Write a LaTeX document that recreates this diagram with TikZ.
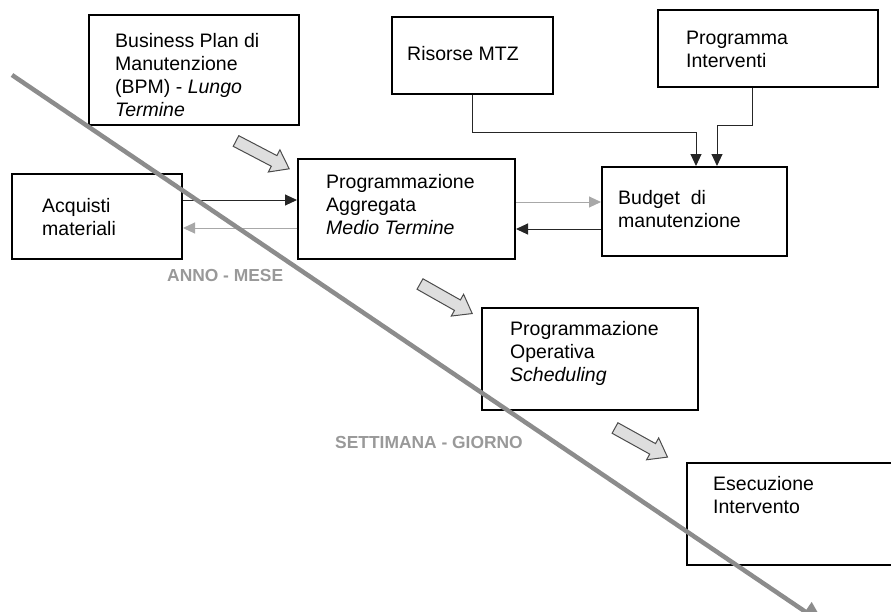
\documentclass[tikz,border=0pt]{standalone}
\usepackage{fontspec}
\setmainfont{Liberation Sans}
\usetikzlibrary{arrows.meta,fit}
\definecolor{lgray}{HTML}{A8A8A8}
\definecolor{dgray}{HTML}{8C8C8C}
\definecolor{bafill}{HTML}{DEDEDE}
\definecolor{labgray}{HTML}{999999}
\begin{document}
\begin{tikzpicture}[x=1pt,y=-1pt,
  box/.style={draw=black, line width=2pt, fill=white, inner sep=0pt, rectangle},
  txt/.style={anchor=base west, inner sep=0pt, font=\fontsize{19.5}{23}\selectfont},
  blk/.style={draw=black!85, line width=1pt, -{Triangle[length=12pt,width=11pt]}},
  gry/.style={draw=lgray, line width=1pt, -{Triangle[length=12pt,width=11pt]}},
  barrow/.style={draw=black!70, fill=bafill, line width=1pt, line join=miter},
  lab/.style={anchor=base west, inner sep=0pt, text=labgray, font=\fontsize{17.4}{20}\selectfont\bfseries},
  diag/.style={draw=dgray, line width=4.5pt, -{Triangle[length=24pt,width=22pt]}}
]
\useasboundingbox (0,0) rectangle (891,611);

% boxes
\node[box, fit={(89,15) (299,125)}] (bpm) {};
\node[box, fit={(392,17) (553,94)}] (ris) {};
\node[box, fit={(658,10) (878,87)}] (prg) {};
\node[box, fit={(12,174) (182,259)}] (acq) {};
\node[box, fit={(298,159) (515,259)}] (agg) {};
\node[box, fit={(602,167) (787,256)}] (bud) {};
\node[box, fit={(482,308) (698,410)}] (ope) {};
\node[box, fit={(687,463) (895,565)}] (ese) {};

% texts
\node[txt] (tbpm) at (115,47) {\parbox[t]{200pt}{Business Plan di\\Manutenzione\\(BPM) - \textit{Lungo}\\\textit{Termine}}};
\node[txt] (tris) at (407,60) {Risorse MTZ};
\node[txt] (tprg) at (686,44) {\parbox[t]{200pt}{Programma\\Interventi}};
\node[txt] (tacq) at (42,212) {\parbox[t]{200pt}{Acquisti\\materiali}};
\node[txt] (tagg) at (326,188) {\parbox[t]{200pt}{Programmazione\\Aggregata\\\textit{Medio Termine}}};
\node[txt] (tbud) at (618,204) {\parbox[t]{200pt}{Budget\ \ di\\manutenzione}};
\node[txt] (tope) at (510,335) {\parbox[t]{200pt}{Programmazione\\Operativa\\\textit{Scheduling}}};
\node[txt] (tese) at (713,490) {\parbox[t]{200pt}{Esecuzione\\Intervento}};

% labels
\node[lab] (l1) at (167,281) {ANNO - MESE};
\node[lab] (l2) at (335,448) {SETTIMANA - GIORNO};

% connectors
\draw[blk] (acq.east |- 0,200) -- (agg.west |- 0,200);
\draw[gry] (agg.west |- 0,228) -- (acq.east |- 0,228);
\draw[gry] (agg.east |- 0,202) -- (bud.west |- 0,202);
\draw[blk] (bud.west |- 0,229) -- (agg.east |- 0,229);
\draw[blk] (ris.south) -- ++(0,37) -| (bud.north -| 696,0);
\draw[blk] (prg.south -| 752,0) -- (752,125) -| (bud.north -| 717,0);

% block arrows
\foreach \px/\py/\ang in {236/141/-27.6, 420/284/-29.5, 615/428/-29}{
  \draw[barrow, shift={(\px,\py)}, rotate=\ang]
    (0,-6) -- (43,-6) -- (43,-12.5) -- (60,0) -- (43,12.5) -- (43,6) -- (0,6) -- cycle;
}

% diagonal time arrow
\coordinate (ds) at (12,75);
\coordinate (de) at (825,625);
\draw[diag] (ds) -- (de);
\end{tikzpicture}
\end{document}
